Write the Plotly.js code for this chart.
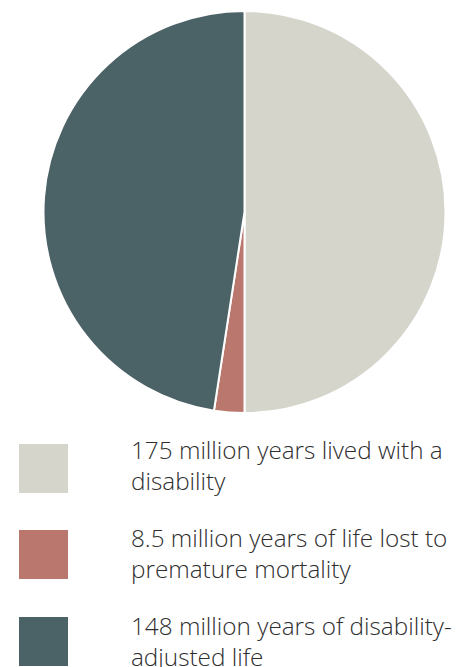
<!DOCTYPE html>
<html>
<head>
<meta charset="utf-8">
<script src="https://cdn.plot.ly/plotly-3.0.1.min.js"></script>
<style>html,body{margin:0;padding:0;background:#fff;}#chart{width:473px;height:667px;}</style>
</head>
<body>
<div id="chart"></div>
<script>
// Slice shares (grey = half the pie, red ≈ 8.5°)
var categories = ["Years lived with a disability", "Years of life lost to premature mortality", "Disability-adjusted life years"];
var sliceValues = [175, 8.5, 166.5];
var sliceColors = ["#d5d5cc", "#b9776e", "#4b6266"];
var legendLines = [
  ["175 million years lived with a", "disability"],
  ["8.5 million years of life lost to", "premature mortality"],
  ["148 million years of disability-", "adjusted life"]
];

var W = 473, H = 667;
function px(x){ return x / W; }
function py(y){ return 1 - y / H; }

var trace = {
  type: "pie",
  labels: categories,
  values: sliceValues,
  sort: false,
  direction: "clockwise",
  rotation: 0,
  textinfo: "none",
  hoverinfo: "label+value",
  marker: { colors: sliceColors, line: { color: "#ffffff", width: 2 } },
  domain: { x: [px(43.5), px(445.5)], y: [py(413), py(11)] },
  showlegend: false
};

var shapes = [], annotations = [];
var boxTop = [444, 530, 617];
var baseline = [459.5, 548, 635.5];
var lineGap = 31;
var fontSize = 24.3;
for (var i = 0; i < categories.length; i++) {
  shapes.push({
    type: "rect", xref: "paper", yref: "paper",
    x0: px(19), x1: px(68), y0: py(boxTop[i] + 49), y1: py(boxTop[i]),
    fillcolor: sliceColors[i], line: { width: 0 }
  });
  for (var j = 0; j < legendLines[i].length; j++) {
    annotations.push({
      xref: "paper", yref: "paper",
      x: px(129), y: py(baseline[i] + j * lineGap - 0.42 * fontSize),
      xanchor: "left", yanchor: "middle", align: "left",
      showarrow: false, text: legendLines[i][j],
      font: { family: "'Open Sans', Lato, sans-serif", size: fontSize, weight: 300, color: "#2e2e2e" }
    });
  }
}

var layout = {
  width: W, height: H,
  margin: { l: 0, r: 0, t: 0, b: 0 },
  paper_bgcolor: "#ffffff",
  shapes: shapes,
  annotations: annotations
};

Plotly.newPlot("chart", [trace], layout, { displayModeBar: false, staticPlot: true });
</script>
</body>
</html>
